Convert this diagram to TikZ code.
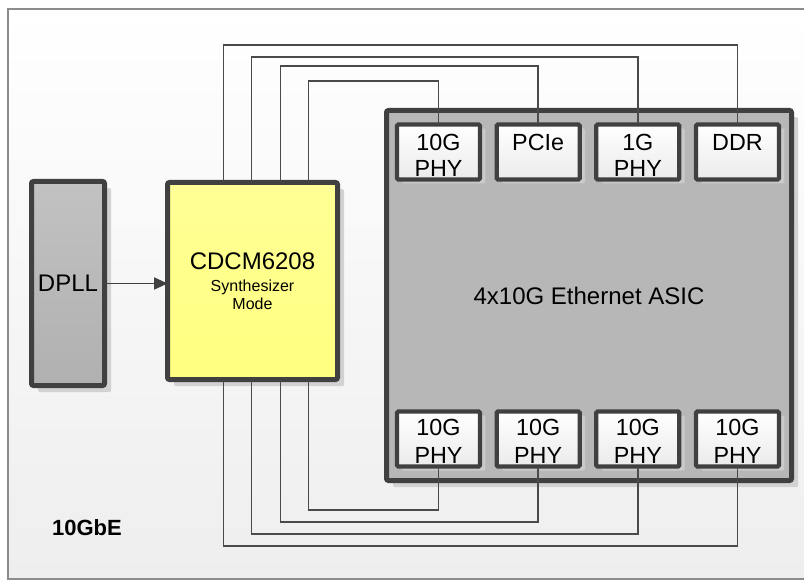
\documentclass[tikz,border=0pt]{standalone}
\usepackage{fontspec}
\setmainfont{Liberation Sans}
\usetikzlibrary{arrows.meta,calc,positioning,shadows}

\definecolor{edgegray}{HTML}{404040}
\definecolor{wiregray}{HTML}{4A4A4A}
\definecolor{framegray}{HTML}{8C8C8C}
\definecolor{boardbottom}{HTML}{EEEEEE}
\definecolor{asicgray}{HTML}{B7B7B7}
\definecolor{dplltop}{HTML}{C2C2C2}
\definecolor{dpllbottom}{HTML}{B0B0B0}
\definecolor{synthtop}{HTML}{FFFF96}
\definecolor{synthbottom}{HTML}{FFFF80}
\definecolor{chipbottom}{HTML}{EBEBEB}
\definecolor{shadowgray}{HTML}{D2D2D2}
\definecolor{chipshadow}{HTML}{CACACA}

\tikzset{
  block/.style={draw=edgegray, line width=3.75pt, rounded corners=1.5pt,
    outer sep=0pt, inner sep=0pt, font=\fontsize{18}{21}\selectfont,
    general shadow={fill=shadowgray, shadow xshift=5pt, shadow yshift=-5pt}},
  chip/.style={draw=edgegray, line width=3.2pt, rounded corners=1pt,
    outer sep=0pt, inner sep=0pt, minimum width=62.25pt, minimum height=41.25pt,
    top color=white, bottom color=chipbottom, align=center,
    font=\fontsize{17.5}{19.5}\selectfont, text height=19.5pt, text depth=21.75pt,
    general shadow={fill=chipshadow, shadow xshift=4pt, shadow yshift=-3pt}},
  twoline/.style={text height=39pt, text depth=2.25pt},
  lowchip/.style={twoline, font=\fontsize{17.5}{21}\selectfont},
  wire/.style={draw=wiregray, line width=1.2pt},
}

\begin{document}
\begin{tikzpicture}[x=0.75pt,y=-0.75pt,>={Triangle[length=10pt,width=9pt]}]
  \useasboundingbox (0,0) rectangle (804,581);
  % board
  \draw[framegray,line width=1.4pt,top color=white,bottom color=boardbottom] (8,9) rectangle (816,579);
  \node[font=\bfseries\fontsize{16.5}{18}\selectfont] (tag) at (87,528) {10GbE};

  % clock path
  \node[block,minimum width=54.75pt,minimum height=153pt,top color=dplltop,bottom color=dpllbottom] (dpll) at (68,283.5) {DPLL};
  \node[block,minimum width=127.5pt,minimum height=147.75pt,top color=synthtop,bottom color=synthbottom,
        align=center,font=\fontsize{12}{13.5}\selectfont] (synth) at (252.5,281)
        {{\fontsize{18}{20}\selectfont CDCM6208}\\[3pt]Synthesizer\\Mode};
  \node[block,fill=asicgray,minimum width=303.75pt,minimum height=277.5pt] (asic) at (589,295.5) {4x10G Ethernet ASIC};

  % interfaces on the asic
  \node[chip,twoline] (phyA) at (438.5,152) {10G\\PHY};
  \node[chip] (pcie) [right=12.5pt of phyA] {PCIe};
  \node[chip,twoline] (phyB) [right=12.5pt of pcie] {1G\\PHY};
  \node[chip] (ddr)  [right=12.5pt of phyB] {DDR};

  \node[chip,lowchip] (portA) at (438.5,439) {10G\\PHY};
  \node[chip,lowchip] (portB) [right=12.5pt of portA] {10G\\PHY};
  \node[chip,lowchip] (portC) [right=12.5pt of portB] {10G\\PHY};
  \node[chip,lowchip] (portD) [right=12.5pt of portC] {10G\\PHY};

  \draw[->,edgegray,line width=1.2pt] (dpll.east) -- (dpll.east -| synth.west);

  % clock outputs
  \foreach \dx/\lvl/\dst in {-29/45/ddr,-1/57/phyB,28/66/pcie,56/81/phyA}
    \draw[wire] ($(synth.north)+(\dx,0)$) |- (\dst.north |- 0,\lvl) -- (\dst.north);
  \foreach \dx/\lvl/\dst in {-29/546/portD,-1/534/portC,28/522/portB,56/510/portA}
    \draw[wire] ($(synth.south)+(\dx,0)$) |- (\dst.south |- 0,\lvl) -- (\dst.south);
\end{tikzpicture}
\end{document}
